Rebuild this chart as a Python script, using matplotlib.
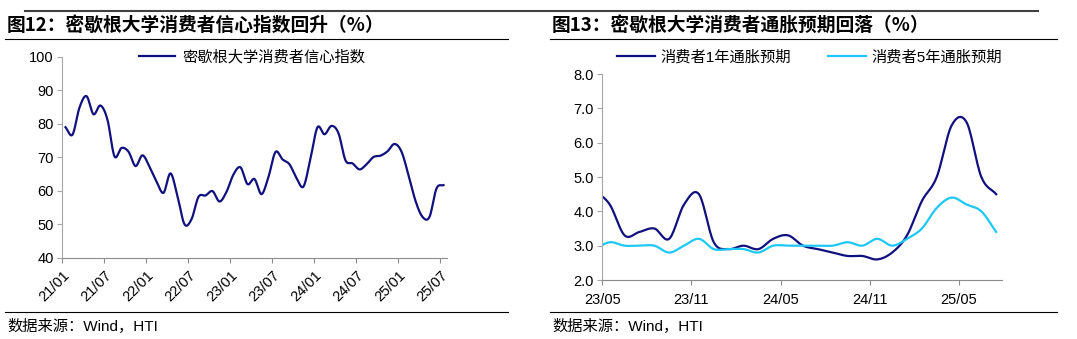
import matplotlib.pyplot as plt
import numpy as np
from matplotlib.lines import Line2D

# UMich consumer sentiment, monthly 2021/01 - 2025/07
sentiment = [79.0, 76.8, 84.9, 88.3, 82.9, 85.5, 81.2, 70.3, 72.8, 71.7, 67.4, 70.6,
             67.2, 62.8, 59.4, 65.2, 58.4, 50.0, 51.5, 58.2, 58.6, 59.9, 56.8, 59.7,
             64.9, 67.0, 62.0, 63.5, 59.0, 64.2, 71.6, 69.4, 67.9, 63.8, 61.3, 69.7,
             79.0, 76.9, 79.4, 77.2, 69.1, 68.2, 66.4, 67.9, 70.1, 70.5, 71.8, 74.0,
             71.7, 64.7, 57.0, 52.2, 52.2, 60.7, 61.7]
sent_ticks = ['21/01', '21/07', '22/01', '22/07', '23/01',
              '23/07', '24/01', '24/07', '25/01', '25/07']

# inflation expectations, monthly 2023/04 - 2025/07
infl_1y = [4.6, 4.2, 3.3, 3.4, 3.5, 3.2, 4.2, 4.5, 3.1,
           2.9, 3.0, 2.9, 3.2, 3.3, 3.0, 2.9, 2.8, 2.7, 2.7, 2.6, 2.8,
           3.3, 4.3, 5.0, 6.5, 6.6, 5.0, 4.5]
infl_5y = [2.9, 3.1, 3.0, 3.0, 3.0, 2.8, 3.0, 3.2, 2.9,
           2.9, 2.9, 2.8, 3.0, 3.0, 3.0, 3.0, 3.0, 3.1, 3.0, 3.2, 3.0,
           3.2, 3.5, 4.1, 4.4, 4.2, 4.0, 3.4]
infl_ticks = ['23/05', '23/11', '24/05', '24/11', '25/05']

NAVY = '#10107f'
CYAN = '#1ec8f5'
W, H = 1077, 339

plt.rcParams['font.family'] = ['Liberation Sans', 'Noto Sans CJK SC']


def smooth(x, y, n=16):
    # catmull-rom through the points, like excel's smoothed line
    out = []
    for v in (np.asarray(x, float), np.asarray(y, float)):
        p = np.concatenate([[2 * v[0] - v[1]], v, [2 * v[-1] - v[-2]]])
        p0, p1, p2, p3 = p[:-3], p[1:-2], p[2:-1], p[3:]
        t = np.linspace(0, 1, n, endpoint=False)[:, None]
        c = 0.5 * (2 * p1 + (-p0 + p2) * t + (2 * p0 - 5 * p1 + 4 * p2 - p3) * t ** 2
                   + (-p0 + 3 * p1 - 3 * p2 + p3) * t ** 3)
        out.append(np.append(c.T.ravel(), v[-1]))
    return out


def fx(x):
    return x / W


def fy(y):
    return 1 - y / H


def hline(fig, x0, x1, y, color='black', lw=0.8):
    fig.add_artist(Line2D([fx(x0), fx(x1)], [fy(y), fy(y)], color=color, lw=lw,
                          transform=fig.transFigure))


def style_axes(ax, xpad):
    for s in ['top', 'right']:
        ax.spines[s].set_visible(False)
    ax.spines['left'].set_color('#a6a6a6')
    ax.spines['bottom'].set_color('#8c8c8c')
    ax.tick_params(axis='y', colors='#a6a6a6', labelcolor='black', length=3.6,
                   labelsize=10.5, pad=2.5)
    ax.tick_params(axis='x', colors='#8c8c8c', labelcolor='black', length=3.6,
                   labelsize=10.5, pad=xpad)


fig = plt.figure(figsize=(W / 100, H / 100), dpi=100)

# frame lines
hline(fig, 25, 1038, 11, color='#404040', lw=1.5)
hline(fig, 5, 508, 39)
hline(fig, 550, 1057, 39)
hline(fig, 5, 508, 312)
hline(fig, 550, 1057, 312)

fig.text(fx(7), fy(25), '图12：密歇根大学消费者信心指数回升（%）', fontsize=13.5,
         fontweight='bold', family=['Noto Sans CJK SC'], va='center')
fig.text(fx(552), fy(25), '图13：密歇根大学消费者通胀预期回落（%）', fontsize=13.5,
         fontweight='bold', family=['Noto Sans CJK SC'], va='center')
fig.text(fx(7), fy(326), '数据来源：Wind，HTI', fontsize=11, va='center')
fig.text(fx(552), fy(326), '数据来源：Wind，HTI', fontsize=11, va='center')

# left: sentiment
ax1 = fig.add_axes([fx(62), fy(257.7), 385 / W, 200.7 / H])
xs = np.arange(len(sentiment)) + 0.5
sx, sy = smooth(xs, sentiment)
ax1.plot(sx, sy, color=NAVY, lw=1.6, label='密歇根大学消费者信心指数')
ax1.set_xlim(0, len(sentiment))
ax1.set_ylim(40, 100)
ax1.set_yticks(range(40, 101, 10))
ax1.set_xticks(range(0, len(sentiment), 6))
ax1.set_xticklabels(sent_ticks, rotation=45, ha='right', va='top',
                    rotation_mode='anchor')
style_axes(ax1, 4)
ax1.legend(loc='center', bbox_to_anchor=(0.495, 1.0), frameon=False, fontsize=11,
           handlelength=2.35, handletextpad=0.5, borderaxespad=0)

# right: inflation expectations
ax2 = fig.add_axes([fx(602.3), fy(280), 399.4 / W, 206 / H])
xm = np.arange(len(infl_1y)) - 0.5
ax, ay = smooth(xm, infl_1y)
bx, by = smooth(xm, infl_5y)
ax2.plot(ax, ay, color=NAVY, lw=1.6, label='消费者1年通胀预期')
ax2.plot(bx, by, color=CYAN, lw=1.6, label='消费者5年通胀预期')
ax2.set_xlim(0, 26.87)
ax2.set_ylim(2, 8)
ax2.set_yticks(np.arange(2, 8.01, 1))
ax2.yaxis.set_major_formatter(plt.FormatStrFormatter('%.1f'))
ax2.set_xticks(range(0, 25, 6))
ax2.set_xticklabels(infl_ticks)
style_axes(ax2, 5.5)
ax2.legend(loc='center', bbox_to_anchor=(0.519, 1.0825), ncol=2, frameon=False,
           fontsize=11, handlelength=2.5, handletextpad=0.35, columnspacing=2.4,
           borderaxespad=0)

fig.savefig('out.png', dpi=100)
